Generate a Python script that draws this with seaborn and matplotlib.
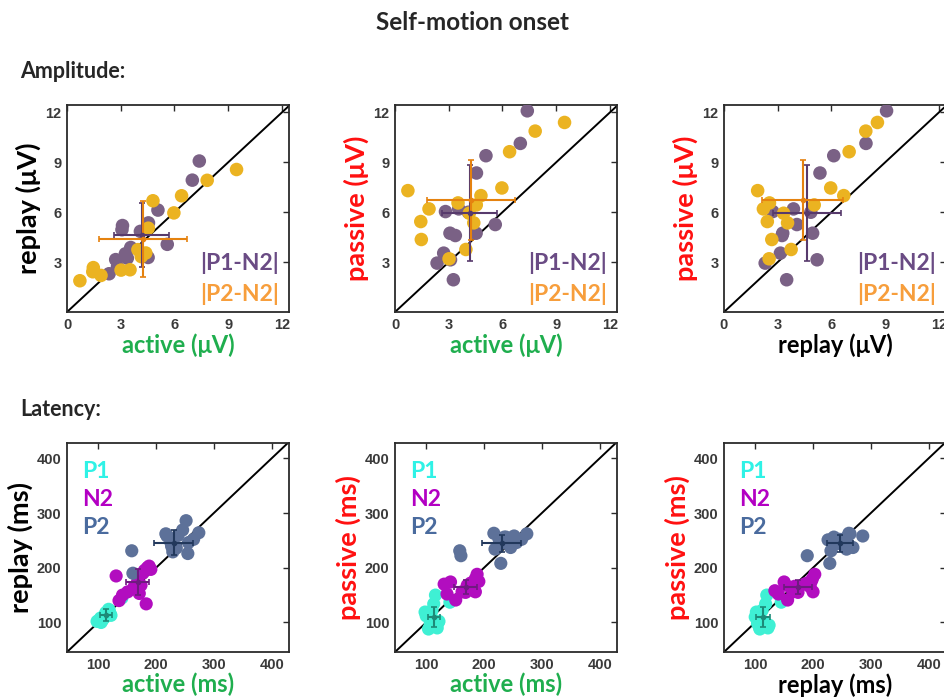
import numpy as np
import pandas as pd
import matplotlib
matplotlib.use("Agg")
import matplotlib.pyplot as plt
import seaborn as sns

# ---------------- data ----------------
# Amplitude (uV), one value per subject
amp_p1n2_active  = [7.39, 7.00, 5.08, 4.55, 2.82, 3.56, 4.10, 5.60, 3.07, 3.37, 4.53, 2.72, 2.35, 3.26, 3.10]
amp_p1n2_replay  = [9.08, 7.93, 6.13, 5.36, 2.72, 3.88, 4.85, 4.07, 4.95, 3.24, 3.28, 3.15, 2.30, 3.50, 5.20]
amp_p1n2_passive = [12.10, 10.14, 9.40, 8.36, 6.04, 6.20, 6.00, 5.26, 4.74, 4.60, 4.74, 3.54, 2.94, 1.94, 3.14]
amp_p2n2_active  = [9.47, 7.83, 6.40, 5.97, 4.80, 4.54, 4.40, 4.15, 3.96, 3.52, 3.02, 1.90, 1.47, 1.44, 0.72]
amp_p2n2_replay  = [8.57, 7.92, 6.99, 5.96, 6.69, 5.04, 3.55, 3.33, 3.75, 2.54, 2.52, 2.20, 2.67, 2.42, 1.88]
amp_p2n2_passive = [11.40, 10.88, 9.64, 7.46, 7.00, 6.44, 5.36, 5.94, 3.76, 6.56, 3.20, 6.20, 4.36, 5.44, 7.30]

# Latency (ms), one value per subject
lat_p1_active  = [141, 116, 113, 98, 110, 121, 104, 119, 107, 100, 112, 118, 105, 122, 109]
lat_p1_replay  = [145, 120, 118, 102, 112, 115, 108, 122, 104, 103, 110, 124, 100, 113, 107]
lat_p1_passive = [137, 150, 134, 119, 122, 101, 88, 90, 98, 112, 105, 95, 110, 102, 92]
lat_n2_active  = [131, 188, 185, 191, 180, 177, 168, 162, 151, 142, 136, 171, 183, 174, 185]
lat_n2_replay  = [185, 203, 199, 197, 195, 190, 174, 165, 156, 150, 140, 153, 134, 168, 200]
lat_n2_passive = [170, 188, 180, 175, 165, 172, 155, 156, 141, 174, 152, 168, 158, 166, 156]
lat_p2_active  = [252, 160, 158, 229, 255, 246, 219, 274, 265, 235, 227, 217, 238, 226, 256]
lat_p2_replay  = [286, 190, 231, 229, 226, 269, 258, 264, 252, 236, 239, 262, 259, 245, 246]
lat_p2_passive = [258, 222, 231, 208, 251, 237, 234, 262, 252, 256, 243, 263, 256, 252, 246]

amp_labels = ["|P1-N2|", "|P2-N2|"]
lat_labels = ["P1", "N2", "P2"]
amp_ticks_x = [0, 3, 6, 9, 12]
amp_ticks_y = [3, 6, 9, 12]
lat_ticks = [100, 200, 300, 400]

# ---------------- style ----------------
sns.set_style("white")
plt.rcParams["font.family"] = ["Lato", "DejaVu Sans"]

C_GREEN = "#1fae4e"
C_RED = "#ff1010"
amp_pt_cols = ["#7a6185", "#ebb321"]
amp_err_cols = ["#573a6c", "#e5820f"]
amp_txt_cols = ["#6a4b84", "#f79e3c"]
lat_pt_cols = ["#3ff0d4", "#b20dbf", "#5d7199"]
lat_err_cols = ["#1d8a78", "#6f1a80", "#22385c"]
lat_txt_cols = ["#2ff2e6", "#b300c3", "#4a6b9e"]

W, H = 944, 697
fig = plt.figure(figsize=(W / 100, H / 100), dpi=100)


def add_ax(x0, x1, ytop, ybot):
    return fig.add_axes([x0 / W, 1 - ybot / H, (x1 - x0) / W, (ybot - ytop) / H])


def style_axes(ax):
    for s in ax.spines.values():
        s.set_color("#2b2b2b")
        s.set_linewidth(1.3)
    ax.tick_params(direction="in", top=True, right=True, length=4, width=1,
                   colors="#2b2b2b", labelcolor="#3a3a3a", labelsize=10.5, pad=4)
    for lab in ax.get_xticklabels() + ax.get_yticklabels():
        lab.set_fontweight("bold")
        lab.set_family(["Liberation Sans", "DejaVu Sans"])


def draw_points(ax, xs, ys, color, size):
    df = pd.DataFrame({"x": xs, "y": ys})
    sns.scatterplot(data=df, x="x", y="y", ax=ax, color=color, s=size,
                    edgecolor="none", linewidth=0, legend=False, zorder=3)


def draw_err(ax, xs, ys, color):
    xs = np.asarray(xs, float)
    ys = np.asarray(ys, float)
    ax.errorbar(xs.mean(), ys.mean(), xerr=xs.std(ddof=1), yerr=ys.std(ddof=1),
                color=color, lw=1.5, capsize=2, capthick=1.2, marker="o",
                ms=3, zorder=5)


def set_labels(ax, xl, xc, yl, yc):
    ax.set_xlabel(xl, color=xc, fontsize=17, fontweight="bold", labelpad=1)
    ax.set_ylabel(yl, color=yc, fontsize=19.5, fontweight="bold", labelpad=3)


xcols = [(67, 289), (395, 617), (724, 946)]

# ---------------- amplitude row ----------------
amp_sets = [
    (amp_p1n2_active, amp_p1n2_replay, amp_p2n2_active, amp_p2n2_replay,
     "active (μV)", C_GREEN, "replay (μV)", "black"),
    (amp_p1n2_active, amp_p1n2_passive, amp_p2n2_active, amp_p2n2_passive,
     "active (μV)", C_GREEN, "passive (μV)", C_RED),
    (amp_p1n2_replay, amp_p1n2_passive, amp_p2n2_replay, amp_p2n2_passive,
     "replay (μV)", "black", "passive (μV)", C_RED),
]
for (x0, x1), (ax1, ay1, ax2, ay2, xl, xc, yl, yc) in zip(xcols, amp_sets):
    ax = add_ax(x0, x1, 105, 312)
    ax.axline((0, 0), slope=1, color="black", lw=1.4, zorder=2)
    draw_points(ax, ax1, ay1, amp_pt_cols[0], 95)
    draw_points(ax, ax2, ay2, amp_pt_cols[1], 95)
    draw_err(ax, ax1, ay1, amp_err_cols[0])
    draw_err(ax, ax2, ay2, amp_err_cols[1])
    ax.set_xlim(0, 12.4)
    ax.set_ylim(0, 12.45)
    ax.set_xticks(amp_ticks_x)
    ax.set_yticks(amp_ticks_y)
    set_labels(ax, xl, xc, yl, yc)
    style_axes(ax)
    ax.text(0.955, 0.235, amp_labels[0], transform=ax.transAxes, ha="right",
            va="center", color=amp_txt_cols[0], fontsize=16.5, fontweight="bold")
    ax.text(0.955, 0.085, amp_labels[1], transform=ax.transAxes, ha="right",
            va="center", color=amp_txt_cols[1], fontsize=16.5, fontweight="bold")

# ---------------- latency row ----------------
lat_sets = [
    ((lat_p1_active, lat_p1_replay), (lat_n2_active, lat_n2_replay),
     (lat_p2_active, lat_p2_replay), "active (ms)", C_GREEN, "replay (ms)", "black"),
    ((lat_p1_active, lat_p1_passive), (lat_n2_active, lat_n2_passive),
     (lat_p2_active, lat_p2_passive), "active (ms)", C_GREEN, "passive (ms)", C_RED),
    ((lat_p1_replay, lat_p1_passive), (lat_n2_replay, lat_n2_passive),
     (lat_p2_replay, lat_p2_passive), "replay (ms)", "black", "passive (ms)", C_RED),
]
for (x0, x1), (g1, g2, g3, xl, xc, yl, yc) in zip(xcols, lat_sets):
    ax = add_ax(x0, x1, 443, 652)
    ax.axline((100, 100), slope=1, color="black", lw=1.4, zorder=2)
    for (xs, ys), c in zip((g1, g2, g3), lat_pt_cols):
        draw_points(ax, xs, ys, c, 90)
    for (xs, ys), c in zip((g1, g2, g3), lat_err_cols):
        draw_err(ax, xs, ys, c)
    ax.set_xlim(46, 430)
    ax.set_ylim(46, 428)
    ax.set_xticks(lat_ticks)
    ax.set_yticks(lat_ticks)
    set_labels(ax, xl, xc, yl, yc)
    style_axes(ax)
    for lab, c, yy in zip(lat_labels, lat_txt_cols, [0.865, 0.73, 0.595]):
        ax.text(0.07, yy, lab, transform=ax.transAxes, ha="left", va="center",
                color=c, fontsize=16.5, fontweight="bold")

# ---------------- titles ----------------
fig.text(0.5, 1 - 23 / H, "Self-motion onset", ha="center", va="center",
         fontsize=17.5, fontweight="bold")
fig.text(20 / W, 1 - 72 / H, "Amplitude:", ha="left", va="center",
         fontsize=15.5, fontweight="bold")
fig.text(20 / W, 1 - 410 / H, "Latency:", ha="left", va="center",
         fontsize=15.5, fontweight="bold")

fig.savefig("out.png", dpi=100)
